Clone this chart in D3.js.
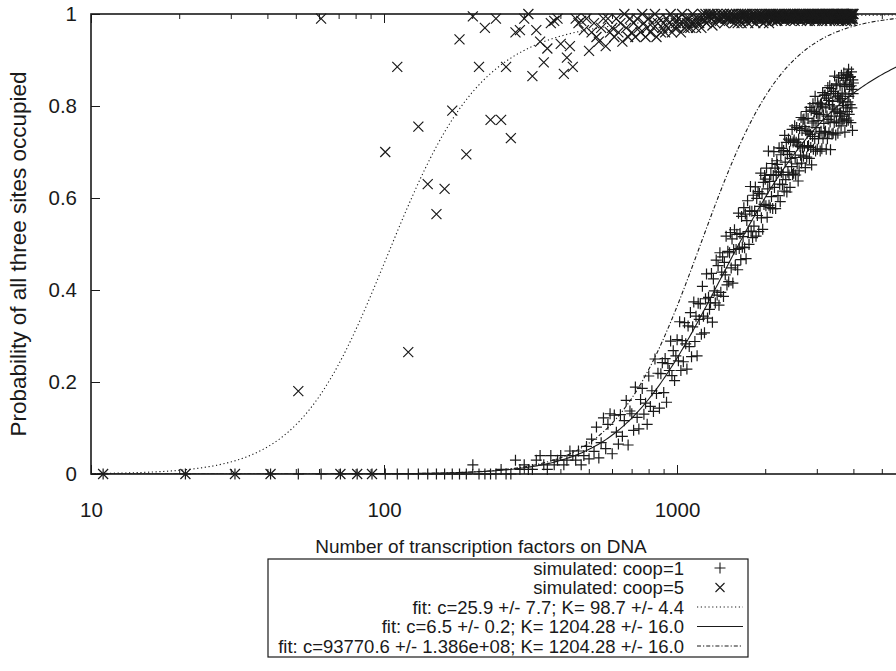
<!DOCTYPE html>
<html>
<head>
<meta charset="utf-8">
<script src="https://cdn.jsdelivr.net/npm/d3@7"></script>
<style>
  body { margin: 0; background: #fff; }
  svg { display: block; font-family: "Liberation Sans", Arial, Helvetica, sans-serif; }
</style>
</head>
<body>
<svg id="chart" width="896" height="671"></svg>
<script>
'use strict';

// simulated numbers of transcription factors: 11, 21, ... 4001
var tfCounts = d3.range(11, 4002, 10);

// P(all three sites occupied), coop = 1  ('+')
var coop1 = [
  0,0,0,0,0,0,0,0,0,
  0,0,0,0,0,0,0,0,0,0,
  0.02,0,0,0,0,0.01,0,0,0.03,0.01,
  0.02,0.01,0.01,0.03,0.04,0.02,0.01,0.04,0.02,0.03,
  0.04,0.02,0.03,0.05,0.04,0.03,0.05,0.02,0.04,0.06,
  0.033,0.076,0.049,0.102,0.035,0.068,0.122,0.055,0.108,0.131,
  0.044,0.128,0.091,0.065,0.129,0.082,0.116,0.160,0.063,0.137,
  0.131,0.095,0.189,0.123,0.098,0.162,0.186,0.130,0.154,0.108,
  0.213,0.147,0.181,0.136,0.250,0.175,0.219,0.143,0.218,0.242,
  0.177,0.251,0.156,0.240,0.225,0.289,0.214,0.268,0.203,0.257,
  0.292,0.246,0.331,0.225,0.290,0.244,0.329,0.283,0.228,0.322,
  0.277,0.351,0.255,0.320,0.374,0.288,0.343,0.257,0.371,0.336,
  0.370,0.304,0.408,0.343,0.307,0.381,0.435,0.339,0.384,0.358,
  0.372,0.436,0.330,0.424,0.398,0.372,0.465,0.389,0.453,0.367,
  0.481,0.395,0.439,0.472,0.386,0.460,0.433,0.517,0.411,0.484,
  0.418,0.481,0.525,0.448,0.511,0.415,0.488,0.531,0.454,0.488,
  0.521,0.444,0.567,0.490,0.523,0.466,0.560,0.493,0.516,0.579,
  0.492,0.565,0.468,0.551,0.594,0.527,0.499,0.572,0.625,0.528,
  0.571,0.514,0.606,0.539,0.572,0.624,0.517,0.599,0.562,0.614,
  0.527,0.610,0.582,0.654,0.557,0.609,0.532,0.634,0.586,0.649,
  0.641,0.583,0.665,0.558,0.620,0.702,0.584,0.636,0.579,0.651,
  0.603,0.675,0.577,0.649,0.701,0.623,0.665,0.577,0.649,0.681,
  0.673,0.605,0.657,0.709,0.630,0.592,0.694,0.656,0.708,0.629,
  0.651,0.703,0.615,0.736,0.678,0.640,0.721,0.613,0.695,0.656,
  0.728,0.650,0.701,0.623,0.724,0.686,0.668,0.749,0.651,0.722,
  0.654,0.726,0.757,0.688,0.650,0.721,0.753,0.674,0.715,0.637,
  0.728,0.659,0.751,0.712,0.693,0.775,0.676,0.747,0.709,0.770,
  0.691,0.772,0.713,0.755,0.666,0.747,0.788,0.689,0.741,0.712,
  0.773,0.714,0.745,0.686,0.797,0.738,0.710,0.791,0.672,0.763,
  0.734,0.805,0.706,0.767,0.788,0.729,0.821,0.702,0.753,0.784,
  0.785,0.706,0.807,0.768,0.729,0.800,0.741,0.782,0.702,0.804,
  0.745,0.806,0.707,0.798,0.829,0.730,0.781,0.762,0.823,0.743,
  0.824,0.745,0.796,0.706,0.817,0.778,0.729,0.840,0.771,0.812,
  0.742,0.803,0.844,0.765,0.705,0.827,0.778,0.838,0.739,0.800,
  0.810,0.741,0.832,0.793,0.764,0.865,0.787,0.827,0.737,0.846,
  0.767,0.848,0.789,0.820,0.741,0.822,0.862,0.763,0.813,0.784,
  0.844,0.785,0.816,0.757,0.867,0.778,0.828,0.809,0.770,0.860,
  0.801,0.872,0.772,0.842,0.743,0.826,0.856,0.796,0.866,0.767,
  0.847,0.788,0.868,0.809,0.769,0.880,0.821,0.782,0.842,0.862,
  0.803,0.864,0.764,0.844,0.874,0.796,0.836,0.747,0.857,0.827,
  0.85
];

// P(all three sites occupied), coop = 5  ('x')
var coop5 = [
  0,0,0,0,0.18,0.99,0,0,0,
  0.70,0.885,0.265,0.755,0.63,0.565,0.62,0.79,0.945,0.695,
  0.995,0.885,0.97,0.77,0.99,0.77,0.885,0.73,0.96,0.965,
  0.99,1,0.865,0.965,0.94,0.895,0.925,0.98,0.985,0.99,
  0.935,0.87,0.905,0.93,0.885,0.99,0.98,0.985,0.965,0.99,
  0.92,0.96,0.98,0.95,0.94,0.97,0.99,0.93,0.99,0.96,
  0.97,0.95,0.99,0.96,0.98,0.94,1,0.97,0.95,0.99,
  0.96,0.98,0.95,0.99,0.97,0.96,1,0.98,0.95,0.97,
  0.99,0.96,0.98,0.97,1,0.95,0.98,0.99,0.96,0.97,
  0.98,0.96,0.99,0.97,0.98,1,0.96,0.99,0.97,0.98,
  0.97,0.99,0.98,0.96,1,0.98,0.97,0.99,0.98,0.97,
  0.99,0.97,0.98,1,0.98,0.99,0.97,0.98,0.99,0.98,
  0.99,0.97,1,0.99,0.985,1,0.98,0.99,1,0.995,
  1,0.99,0.975,1,0.995,0.98,0.99,1,0.99,0.995,
  0.985,1,0.99,0.995,1,0.98,0.995,0.99,1,0.99,
  0.995,0.99,1,0.985,0.99,1,0.995,0.98,0.99,1,
  0.99,0.98,1,0.99,0.985,1,0.98,0.99,1,0.995,
  1,0.99,0.985,1,0.995,0.98,0.99,1,0.99,0.995,
  0.985,1,0.99,0.995,1,0.98,0.995,0.99,1,0.99,
  0.995,0.99,1,0.985,0.99,1,0.995,0.98,0.99,1,
  0.99,0.985,1,0.99,0.995,1,0.98,0.99,1,0.995,
  1,0.99,0.985,1,0.995,0.99,0.99,1,0.985,0.995,
  0.985,1,0.99,0.995,1,0.99,0.995,0.99,1,0.99,
  0.995,0.99,1,0.985,0.99,1,0.995,0.99,0.99,1,
  0.99,0.995,1,0.99,0.985,1,0.99,0.99,1,0.995,
  1,0.99,0.985,1,0.995,0.99,0.99,1,0.99,0.995,
  0.99,1,0.99,0.995,1,0.985,0.995,0.99,1,0.99,
  0.995,0.99,1,0.99,0.99,1,0.995,0.985,0.99,1,
  0.99,0.995,1,0.99,0.985,1,0.99,0.995,1,0.995,
  1,0.99,0.99,1,0.995,0.985,0.99,1,0.99,0.995,
  0.985,1,0.99,0.995,1,0.99,0.995,0.99,1,0.99,
  0.995,0.99,1,0.985,0.99,1,0.995,0.99,0.99,1,
  0.99,0.995,1,0.99,0.985,1,0.99,0.99,1,0.995,
  1,0.99,0.985,1,0.995,0.99,0.99,1,0.99,0.995,
  0.99,1,0.99,0.995,1,0.985,0.995,0.99,1,0.99,
  0.995,0.99,1,0.99,0.99,1,0.995,0.985,0.99,1,
  0.99,0.995,1,0.99,0.985,1,0.99,0.995,1,0.995,
  1,0.99,0.99,1,0.995,0.985,0.99,1,0.99,0.995,
  0.985,1,0.99,0.995,1,0.99,0.995,0.99,1,0.99,
  0.995,0.99,1,0.985,0.99,1,0.995,0.99,0.99,1,
  1
];

// fitted model: x = N/K, P = x^3 / (1 + x^3 + 3(x + x^2)/c)
var fitLabels = [
  'fit: c=25.9 +/- 7.7; K= 98.7 +/- 4.4',
  'fit: c=6.5 +/- 0.2; K= 1204.28 +/- 16.0',
  'fit: c=93770.6 +/- 1.386e+08; K= 1204.28 +/- 16.0'
];
var fitC = [25.9, 6.5, 93770.6];
var fitK = [98.7, 1204.28, 1204.28];
var fitDash = ['1.2,2.6', null, '4,2,1.2,2'];

var seriesLabels = ['simulated: coop=1', 'simulated: coop=5'];
var xTickLabels = [10, 100, 1000];
var xMinorTicks = [20,30,40,50,60,70,80,90,200,300,400,500,600,700,800,900,2000,3000,4000,5000];
var yTicks = [0, 0.2, 0.4, 0.6, 0.8, 1];

var ink = '#1a1a1a';
var fontStack = '"Liberation Sans", Arial, Helvetica, sans-serif';
var plotLeft = 91, plotRight = 905, plotTop = 14, plotBottom = 474;

var svg = d3.select('#chart');

var x = d3.scaleLog().domain([10, 6000]).range([plotLeft, plotRight]);
var y = d3.scaleLinear().domain([0, 1]).range([plotBottom, plotTop]);

var hill = function (N, c, K) {
    var r = N / K;
    return r * r * r / (1 + r * r * r + 3 * (r + r * r) / c);
};

// clip for the fitted curves
svg.append('clipPath').attr('id', 'plotclip')
   .append('rect')
   .attr('x', plotLeft).attr('y', plotTop)
   .attr('width', plotRight - plotLeft).attr('height', plotBottom - plotTop);

// axes (gnuplot style: ticks pointing inward, mirrored)
var styleAxis = function (g) {
    g.select('.domain').remove();
    g.selectAll('line').attr('stroke', ink).attr('stroke-width', 1);
    g.selectAll('text').attr('fill', ink)
     .style('font-size', '20.5px')
     .style('font-family', fontStack);
};

svg.append('g').attr('transform', 'translate(0,' + plotBottom + ')')
   .call(d3.axisBottom(x).tickValues(xTickLabels).tickFormat(d3.format('d'))
         .tickSizeInner(-9).tickSizeOuter(0).tickPadding(28))
   .call(styleAxis);
svg.append('g').attr('transform', 'translate(0,' + plotBottom + ')')
   .call(d3.axisBottom(x).tickValues(xMinorTicks).tickFormat('')
         .tickSizeInner(-5).tickSizeOuter(0))
   .call(styleAxis);
svg.append('g').attr('transform', 'translate(0,' + plotTop + ')')
   .call(d3.axisTop(x).tickValues(xTickLabels).tickFormat('')
         .tickSizeInner(-9).tickSizeOuter(0))
   .call(styleAxis);
svg.append('g').attr('transform', 'translate(0,' + plotTop + ')')
   .call(d3.axisTop(x).tickValues(xMinorTicks).tickFormat('')
         .tickSizeInner(-5).tickSizeOuter(0))
   .call(styleAxis);
svg.append('g').attr('transform', 'translate(' + plotLeft + ',0)')
   .call(d3.axisLeft(y).tickValues(yTicks).tickFormat(d3.format('~g'))
         .tickSizeInner(-9).tickSizeOuter(0).tickPadding(14))
   .call(styleAxis);
svg.append('g').attr('transform', 'translate(' + plotRight + ',0)')
   .call(d3.axisRight(y).tickValues(yTicks).tickFormat('')
         .tickSizeInner(-9).tickSizeOuter(0))
   .call(styleAxis);

svg.append('rect')
   .attr('x', plotLeft).attr('y', plotTop)
   .attr('width', plotRight - plotLeft).attr('height', plotBottom - plotTop)
   .attr('fill', 'none').attr('stroke', ink).attr('stroke-width', 1.6);

// axis titles
svg.append('text')
   .attr('x', 481).attr('y', 553)
   .attr('text-anchor', 'middle')
   .attr('fill', ink).style('font-size', '19px')
   .text('Number of transcription factors on DNA');
svg.append('text')
   .attr('transform', 'translate(26,254) rotate(-90)')
   .attr('text-anchor', 'middle')
   .attr('fill', ink).style('font-size', '22.5px')
   .text('Probability of all three sites occupied');

// fitted curves
var curveN = d3.range(0, 401).map(function (i) { return 10 * Math.pow(600, i / 400); });
var line = d3.line().x(function (d) { return x(d[0]); }).y(function (d) { return y(d[1]); });

fitC.forEach(function (c, i) {
    var pts = curveN.map(function (N) { return [N, hill(N, c, fitK[i])]; });
    svg.append('path')
       .attr('clip-path', 'url(#plotclip)')
       .attr('d', line(pts))
       .attr('fill', 'none').attr('stroke', ink).attr('stroke-width', 1.1)
       .attr('stroke-dasharray', fitDash[i]);
});

// simulated points
var plusPath = 'M-5.5,0H5.5M0,-5.5V5.5';
var crossPath = 'M-5,-5L5,5M-5,5L5,-5';

svg.append('g').selectAll('path')
   .data(tfCounts.map(function (n, i) { return [n, coop1[i]]; }))
   .enter().append('path')
   .attr('transform', function (d) { return 'translate(' + x(d[0]) + ',' + y(d[1]) + ')'; })
   .attr('d', plusPath)
   .attr('fill', 'none').attr('stroke', ink).attr('stroke-width', 1.2);

svg.append('g').selectAll('path')
   .data(tfCounts.map(function (n, i) { return [n, coop5[i]]; }))
   .enter().append('path')
   .attr('transform', function (d) { return 'translate(' + x(d[0]) + ',' + y(d[1]) + ')'; })
   .attr('d', crossPath)
   .attr('fill', 'none').attr('stroke', ink).attr('stroke-width', 1.2);

// legend
var legend = svg.append('g');
legend.append('rect')
   .attr('x', 268).attr('y', 559).attr('width', 480).attr('height', 98)
   .attr('fill', '#fff').attr('stroke', ink).attr('stroke-width', 1.2);

var legendRows = seriesLabels.concat(fitLabels);
var rowY = function (i) { return 568 + i * 19.5; };

legend.selectAll('text')
   .data(legendRows).enter().append('text')
   .attr('x', 684).attr('y', function (d, i) { return rowY(i) + 6.5; })
   .attr('text-anchor', 'end')
   .attr('fill', ink).style('font-size', '18.5px')
   .text(function (d) { return d; });

legend.append('path').attr('transform', 'translate(720,' + rowY(0) + ')')
   .attr('d', plusPath).attr('fill', 'none').attr('stroke', ink).attr('stroke-width', 1.1);
legend.append('path').attr('transform', 'translate(720,' + rowY(1) + ')')
   .attr('d', 'M-4.5,-4.5L4.5,4.5M-4.5,4.5L4.5,-4.5')
   .attr('fill', 'none').attr('stroke', ink).attr('stroke-width', 1.1);
fitDash.forEach(function (dash, i) {
    legend.append('line')
       .attr('x1', 697).attr('x2', 743)
       .attr('y1', rowY(i + 2)).attr('y2', rowY(i + 2))
       .attr('stroke', ink).attr('stroke-width', 1.1)
       .attr('stroke-dasharray', dash);
});
</script>
</body>
</html>
